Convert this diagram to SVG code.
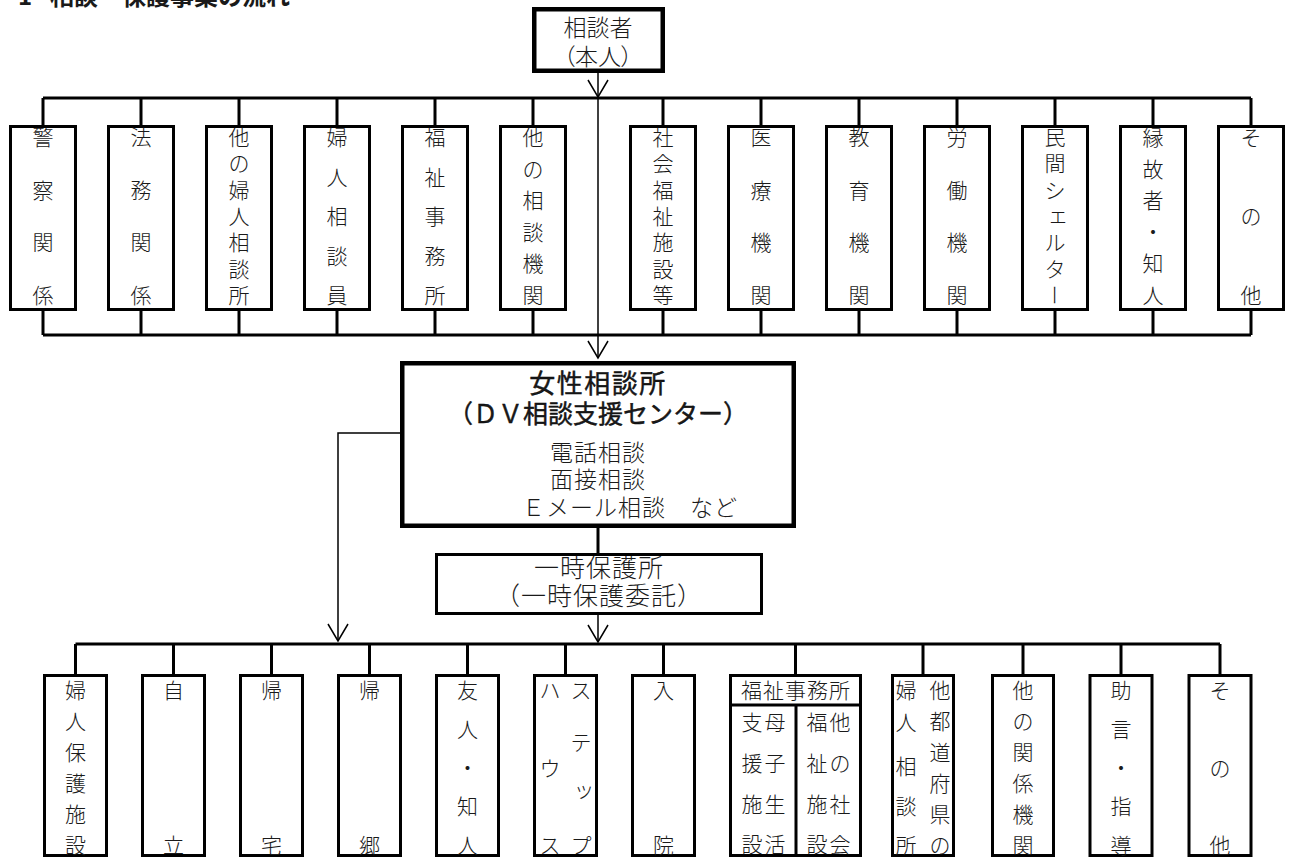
<svg xmlns="http://www.w3.org/2000/svg" width="1289" height="859" viewBox="0 0 1289 859">
<defs>
<style>
text{font-family:"Noto Sans CJK JP","Noto Sans CJK SC",sans-serif;fill:#1a1a1a;font-weight:300;}
.v{font-size:21px;text-anchor:middle;}
.h{text-anchor:middle;}
.box{fill:#fff;stroke:#000;stroke-width:3;}
.thick{fill:#fff;stroke:#000;stroke-width:4.5;}
.ln{fill:none;stroke:#000;stroke-width:3;}
.thin{fill:none;stroke:#000;stroke-width:1.5;}
.palt{font-feature-settings:"palt";}
</style>
<marker id="arr" viewBox="-19 -12 21 24" refX="0" refY="0" markerWidth="21" markerHeight="24" markerUnits="userSpaceOnUse" orient="auto">
<path d="M -17 -10 L 0 0 L -17 10" fill="none" stroke="#000" stroke-width="1.5"/>
</marker>
</defs>
<rect x="0" y="0" width="1289" height="859" fill="#fff"/>
<text x="18" y="5" style="font-size:24px;font-weight:bold;">1<tspan x="50">相談・保護事業の流れ</tspan></text>

<g id="connectors">
<path class="ln" d="M43 98 H1251 M43 98 V125 M141 98 V125 M239 98 V125 M337 98 V125 M435 98 V125 M533 98 V125 M663 98 V125 M761 98 V125 M859 98 V125 M957 98 V125 M1055 98 V125 M1153 98 V125 M1251 98 V125"/>
<path class="ln" d="M43 335 H1251 M43 310 V335 M141 310 V335 M239 310 V335 M337 310 V335 M435 310 V335 M533 310 V335 M663 310 V335 M761 310 V335 M859 310 V335 M957 310 V335 M1055 310 V335 M1153 310 V335 M1251 310 V335"/>
<path class="thin" d="M598 73 V97" marker-end="url(#arr)"/>
<path class="thin" d="M598 98 V358" marker-end="url(#arr)"/>
<path class="ln" d="M598 527 V553"/>
<path class="thin" d="M598 615 V642" marker-end="url(#arr)"/>
<path class="thin" d="M400 433 H338 V641" marker-end="url(#arr)"/>
<path class="ln" d="M75.5 644 H1220 M75.5 644 V674 M173.5 644 V674 M271.5 644 V674 M369.5 644 V674 M467.5 644 V674 M565.5 644 V674 M663.5 644 V674 M795.5 644 V674 M923 644 V674 M1023 644 V674 M1121 644 V674 M1220 644 V674"/>
</g>

<g id="n-sodansha">
<rect class="thick" x="534.25" y="9.25" width="128.5" height="61.5"/>
<text class="h" x="598" y="36" style="font-size:23px;">相談者</text>
<text class="h palt" x="598" y="65" style="font-size:23px;">（本人）</text>
</g>

<g id="t1"><rect class="box" x="10.5" y="126.5" width="65" height="183"/><text class="v"><tspan x="43" y="145">警</tspan><tspan x="43" y="197.7">察</tspan><tspan x="43" y="250.3">関</tspan><tspan x="43" y="303">係</tspan></text></g>
<g id="t2"><rect class="box" x="108.5" y="126.5" width="65" height="183"/><text class="v"><tspan x="141" y="145">法</tspan><tspan x="141" y="197.7">務</tspan><tspan x="141" y="250.3">関</tspan><tspan x="141" y="303">係</tspan></text></g>
<g id="t3"><rect class="box" x="206.5" y="126.5" width="65" height="183"/><text class="v"><tspan x="239" y="145">他</tspan><tspan x="239" y="171.3">の</tspan><tspan x="239" y="197.7">婦</tspan><tspan x="239" y="224">人</tspan><tspan x="239" y="250.3">相</tspan><tspan x="239" y="276.7">談</tspan><tspan x="239" y="303">所</tspan></text></g>
<g id="t4"><rect class="box" x="304.5" y="126.5" width="65" height="183"/><text class="v"><tspan x="337" y="145">婦</tspan><tspan x="337" y="184.5">人</tspan><tspan x="337" y="224">相</tspan><tspan x="337" y="263.5">談</tspan><tspan x="337" y="303">員</tspan></text></g>
<g id="t5"><rect class="box" x="402.5" y="126.5" width="65" height="183"/><text class="v"><tspan x="435" y="145">福</tspan><tspan x="435" y="184.5">祉</tspan><tspan x="435" y="224">事</tspan><tspan x="435" y="263.5">務</tspan><tspan x="435" y="303">所</tspan></text></g>
<g id="t6"><rect class="box" x="500.5" y="126.5" width="65" height="183"/><text class="v"><tspan x="533" y="145">他</tspan><tspan x="533" y="176.6">の</tspan><tspan x="533" y="208.2">相</tspan><tspan x="533" y="239.8">談</tspan><tspan x="533" y="271.4">機</tspan><tspan x="533" y="303">関</tspan></text></g>
<g id="t7"><rect class="box" x="630.5" y="126.5" width="65" height="183"/><text class="v"><tspan x="663" y="145">社</tspan><tspan x="663" y="171.3">会</tspan><tspan x="663" y="197.7">福</tspan><tspan x="663" y="224">祉</tspan><tspan x="663" y="250.3">施</tspan><tspan x="663" y="276.7">設</tspan><tspan x="663" y="303">等</tspan></text></g>
<g id="t8"><rect class="box" x="728.5" y="126.5" width="65" height="183"/><text class="v"><tspan x="761" y="145">医</tspan><tspan x="761" y="197.7">療</tspan><tspan x="761" y="250.3">機</tspan><tspan x="761" y="303">関</tspan></text></g>
<g id="t9"><rect class="box" x="826.5" y="126.5" width="65" height="183"/><text class="v"><tspan x="859" y="145">教</tspan><tspan x="859" y="197.7">育</tspan><tspan x="859" y="250.3">機</tspan><tspan x="859" y="303">関</tspan></text></g>
<g id="t10"><rect class="box" x="924.5" y="126.5" width="65" height="183"/><text class="v"><tspan x="957" y="145">労</tspan><tspan x="957" y="197.7">働</tspan><tspan x="957" y="250.3">機</tspan><tspan x="957" y="303">関</tspan></text></g>
<g id="t11"><rect class="box" x="1022.5" y="126.5" width="65" height="183"/><text class="v"><tspan x="1055" y="145">民</tspan><tspan x="1055" y="171.3">間</tspan><tspan x="1055" y="197.7">シ</tspan><tspan x="1058" y="222">ェ</tspan><tspan x="1055" y="250.3">ル</tspan><tspan x="1055" y="276.7">タ</tspan></text><text class="v" x="1055" y="303" transform="rotate(90 1055 295)">ー</text></g>
<g id="t12"><rect class="box" x="1120.5" y="126.5" width="65" height="183"/><text class="v"><tspan x="1153" y="145">縁</tspan><tspan x="1153" y="176.6">故</tspan><tspan x="1153" y="208.2">者</tspan><tspan x="1153" y="239.8">・</tspan><tspan x="1153" y="271.4">知</tspan><tspan x="1153" y="303">人</tspan></text></g>
<g id="t13"><rect class="box" x="1218.5" y="126.5" width="65" height="183"/><text class="v"><tspan x="1251" y="145">そ</tspan><tspan x="1251" y="224">の</tspan><tspan x="1251" y="303">他</tspan></text></g>

<g id="n-center">
<rect class="thick" x="402.25" y="363.25" width="391.5" height="162.5"/>
<text class="h" x="598" y="393" style="font-size:26px;letter-spacing:1.5px;font-weight:normal;stroke:#000;stroke-width:0.4;">女性相談所</text>
<text class="h" x="598" y="422.5" style="font-size:25px;font-weight:normal;stroke:#000;stroke-width:0.4;">（ＤＶ相談支援センター）</text>
<text x="550" y="461" style="font-size:23px;letter-spacing:1px;">電話相談</text>
<text x="550" y="488" style="font-size:23px;letter-spacing:1px;">面接相談</text>
<text x="522" y="516" style="font-size:23px;letter-spacing:1px;">Ｅメール相談　など</text>
</g>

<g id="n-ichiji">
<rect class="box" x="436.5" y="554.5" width="325" height="59"/>
<text class="h" x="599" y="577" style="font-size:25px;letter-spacing:1px;">一時保護所</text>
<text class="h" x="599" y="605" style="font-size:25px;letter-spacing:1px;">（一時保護委託）</text>
</g>

<g id="b1"><rect class="box" x="44.5" y="675.5" width="62" height="180"/><text class="v"><tspan x="75.5" y="698">婦</tspan><tspan x="75.5" y="729">人</tspan><tspan x="75.5" y="760">保</tspan><tspan x="75.5" y="791">護</tspan><tspan x="75.5" y="822">施</tspan><tspan x="75.5" y="853">設</tspan></text></g>
<g id="b2"><rect class="box" x="142.5" y="675.5" width="62" height="180"/><text class="v"><tspan x="173.5" y="698">自</tspan><tspan x="173.5" y="853">立</tspan></text></g>
<g id="b3"><rect class="box" x="240.5" y="675.5" width="62" height="180"/><text class="v"><tspan x="271.5" y="698">帰</tspan><tspan x="271.5" y="853">宅</tspan></text></g>
<g id="b4"><rect class="box" x="338.5" y="675.5" width="62" height="180"/><text class="v"><tspan x="369.5" y="698">帰</tspan><tspan x="369.5" y="853">郷</tspan></text></g>
<g id="b5"><rect class="box" x="436.5" y="675.5" width="62" height="180"/><text class="v"><tspan x="467.5" y="698">友</tspan><tspan x="467.5" y="736.8">人</tspan><tspan x="467.5" y="775.5">・</tspan><tspan x="467.5" y="814.3">知</tspan><tspan x="467.5" y="853">人</tspan></text></g>
<g id="b6"><rect class="box" x="534.5" y="675.5" width="62" height="180"/><text class="v"><tspan x="581" y="698">ス</tspan><tspan x="581" y="750">テ</tspan><tspan x="584" y="797">ッ</tspan><tspan x="581" y="853">プ</tspan><tspan x="550" y="698">ハ</tspan><tspan x="550" y="775.5">ウ</tspan><tspan x="550" y="853">ス</tspan></text></g>
<g id="b7"><rect class="box" x="632.5" y="675.5" width="62" height="180"/><text class="v"><tspan x="663.5" y="698">入</tspan><tspan x="663.5" y="853">院</tspan></text></g>
<g id="b8"><rect class="box" x="730.5" y="675.5" width="130" height="180"/>
<path class="ln" d="M730 705 H861 M796 705 V856"/>
<text class="h" x="796" y="698" style="font-size:21px;letter-spacing:1px;">福祉事務所</text>
<text class="v"><tspan x="775" y="730">母</tspan><tspan x="775" y="771">子</tspan><tspan x="775" y="812">生</tspan><tspan x="775" y="852">活</tspan><tspan x="752" y="730">支</tspan><tspan x="752" y="771">援</tspan><tspan x="752" y="812">施</tspan><tspan x="752" y="852">設</tspan></text>
<text class="v"><tspan x="840" y="730">他</tspan><tspan x="840" y="771">の</tspan><tspan x="840" y="812">社</tspan><tspan x="840" y="852">会</tspan><tspan x="817" y="730">福</tspan><tspan x="817" y="771">祉</tspan><tspan x="817" y="812">施</tspan><tspan x="817" y="852">設</tspan></text></g>
<g id="b9"><rect class="box" x="892.5" y="675.5" width="61" height="180"/><text class="v"><tspan x="940" y="698">他</tspan><tspan x="940" y="729">都</tspan><tspan x="940" y="760">道</tspan><tspan x="940" y="791">府</tspan><tspan x="940" y="822">県</tspan><tspan x="940" y="853">の</tspan><tspan x="906" y="698">婦</tspan><tspan x="906" y="730">人</tspan><tspan x="906" y="774">相</tspan><tspan x="906" y="814">談</tspan><tspan x="906" y="853">所</tspan></text></g>
<g id="b10"><rect class="box" x="992.5" y="675.5" width="61" height="180"/><text class="v"><tspan x="1023" y="698">他</tspan><tspan x="1023" y="729">の</tspan><tspan x="1023" y="760">関</tspan><tspan x="1023" y="791">係</tspan><tspan x="1023" y="822">機</tspan><tspan x="1023" y="853">関</tspan></text></g>
<g id="b11"><rect class="box" x="1090" y="675.5" width="62" height="180"/><text class="v"><tspan x="1121" y="698">助</tspan><tspan x="1121" y="736.8">言</tspan><tspan x="1121" y="775.5">・</tspan><tspan x="1121" y="814.3">指</tspan><tspan x="1121" y="853">導</tspan></text></g>
<g id="b12"><rect class="box" x="1189" y="675.5" width="62" height="180"/><text class="v"><tspan x="1220" y="698">そ</tspan><tspan x="1220" y="775.5">の</tspan><tspan x="1220" y="853">他</tspan></text></g>
</svg>
